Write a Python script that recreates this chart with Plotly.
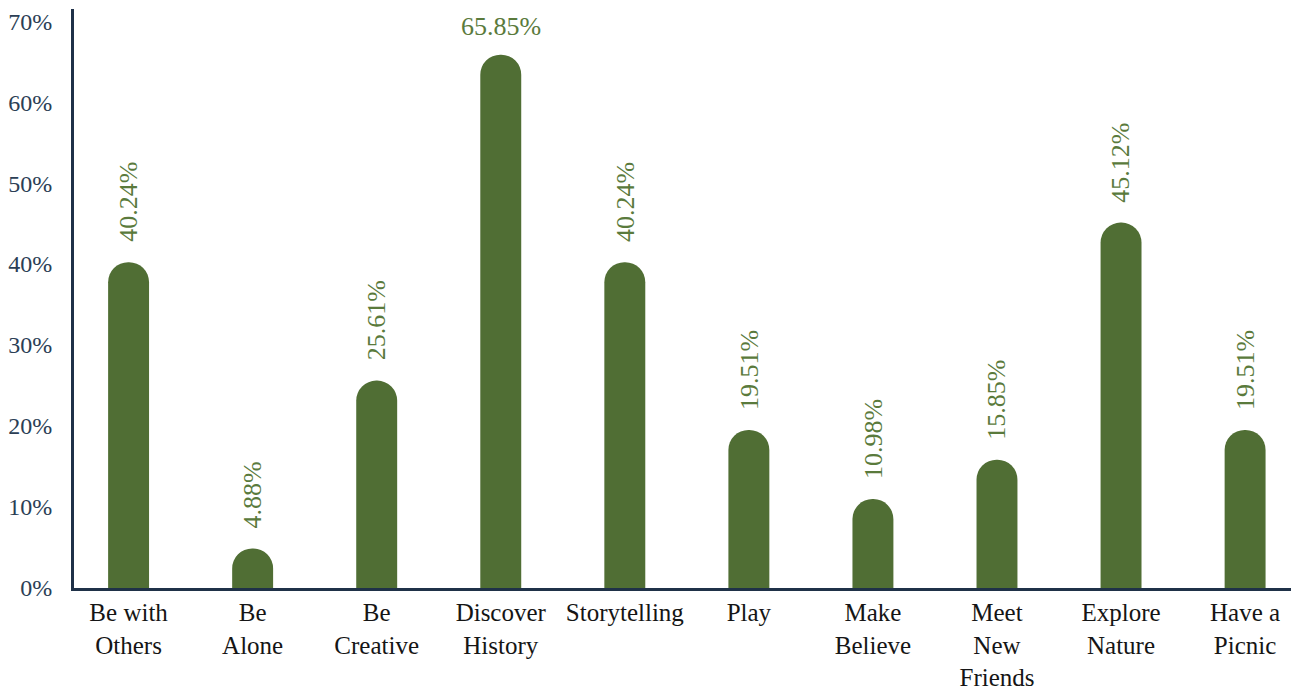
import plotly.graph_objects as go

# Survey: what visitors would like to do
categories = [
    "Be with<br>Others", "Be<br>Alone", "Be<br>Creative", "Discover<br>History",
    "Storytelling", "Play", "Make<br>Believe", "Meet<br>New<br>Friends",
    "Explore<br>Nature", "Have a<br>Picnic",
]
shares = [40.24, 4.88, 25.61, 65.85, 40.24, 19.51, 10.98, 15.85, 45.12, 19.51]
y_ticks = [0, 10, 20, 30, 40, 50, 60, 70]
y_tick_labels = [f"{t}%" for t in y_ticks]

BAR = "#506e34"
LABEL = "#5a7a3c"
AXIS = "#1f3148"
FONT = "Liberation Serif, DejaVu Serif, serif"

fig = go.Figure()
fig.add_trace(go.Bar(
    x=list(range(len(categories))),
    y=shares,
    width=0.33,
    marker=dict(color=BAR, cornerradius="50%", line=dict(width=0)),
    hoverinfo="skip",
))

# value labels: vertical above each bar, horizontal where it would run off the top
for i, v in enumerate(shares):
    if v > 60:
        fig.add_annotation(x=i, y=v, text=f"{v:.2f}%", showarrow=False,
                           yanchor="bottom", yshift=12,
                           font=dict(family=FONT, size=26, color=LABEL))
    else:
        fig.add_annotation(x=i, y=v, text=f"{v:.2f}%", showarrow=False,
                           textangle=-90, yanchor="bottom", yshift=18,
                           font=dict(family=FONT, size=26, color=LABEL))

fig.update_layout(
    width=1291, height=691,
    margin=dict(l=74, r=0, t=9, b=100),
    paper_bgcolor="white", plot_bgcolor="white",
    showlegend=False,
    xaxis=dict(
        range=[-0.44, 9.37],
        tickmode="array",
        tickvals=list(range(len(categories))),
        ticktext=categories,
        showgrid=False, zeroline=False,
        showline=True, linecolor=AXIS, linewidth=3,
        ticks="",
        tickfont=dict(family=FONT, size=25, color="#151515"),
    ),
    yaxis=dict(
        range=[0, 71.5],
        tickmode="array",
        tickvals=y_ticks,
        ticktext=y_tick_labels,
        showgrid=False, zeroline=False,
        showline=True, linecolor=AXIS, linewidth=3,
        ticks="", ticklabelstandoff=14,
        tickfont=dict(family=FONT, size=24, color="#2b3e55"),
    ),
)

fig.write_html("out.html")
